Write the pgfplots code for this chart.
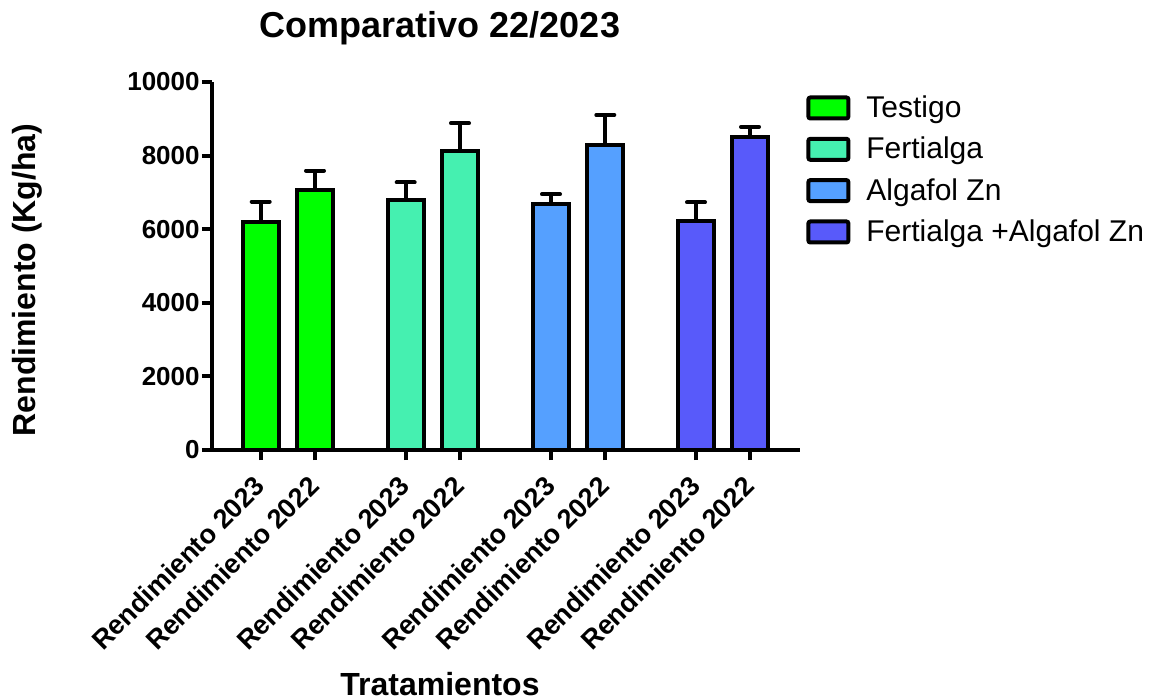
\documentclass[border=0pt]{standalone}
\usepackage{pgfplots}
\pgfplotsset{compat=1.18}
\usepackage{fontspec}
\setmainfont{Liberation Sans}
\definecolor{cTes}{HTML}{00FF00}
\definecolor{cFer}{HTML}{45F0B0}
\definecolor{cAlg}{HTML}{55A0FF}
\definecolor{cFA}{HTML}{585AFA}
\begin{document}
\begin{tikzpicture}
\path[use as bounding box] (-106pt,-125pt) rectangle (471.5pt,225pt);
\begin{axis}[
  at={(0pt,0pt)}, anchor=south west,
  scale only axis, width=294pt, height=184pt,
  xmin=0, xmax=588, ymin=0, ymax=10000,
  clip=false,
  axis x line*=bottom, axis y line*=left,
  axis line style={line width=2pt, -},
  tick align=outside, major tick length=5pt,
  tick style={line width=2pt, black},
  scaled y ticks=false,
  ytick={0,2000,4000,6000,8000,10000},
  xtick={48.7,103,193.7,248,339,393.3,484,538},
  xticklabels={Rendimiento 2023,Rendimiento 2022,Rendimiento 2023,Rendimiento 2022,Rendimiento 2023,Rendimiento 2022,Rendimiento 2023,Rendimiento 2022},
  /pgf/number format/assume math mode=true,
  /pgf/number format/set thousands separator={},
  yticklabel style={font=\bfseries\fontsize{13}{15}\selectfont, inner sep=1pt},
  xticklabel style={font=\bfseries\fontsize{13.5}{15}\selectfont, xshift=-4pt, yshift=-5.5pt, rotate=45, anchor=north east, inner sep=1pt},
  ybar, bar width=18pt, bar shift=0pt,
  every axis plot/.append style={draw=black, line width=2pt},
  error bars/y dir=plus, error bars/y explicit,
  error bars/error bar style={line width=2pt, black},
  error bars/error mark options={rotate=90, mark size=4.5pt, line width=2pt, black, line cap=round},
  legend style={draw=none, fill=none, at={(1.0102,0.975)}, anchor=north west, inner sep=0pt,
    font=\fontsize{15}{17}\selectfont, row sep=4.3pt,
    /tikz/every odd column/.append style={column sep=6pt}},
  legend cell align=left,
  legend image code/.code={\draw[#1, line width=2pt, rounded corners=1pt] (0pt,-5.25pt) rectangle (20pt,5.25pt);},
]
\addplot[fill=cTes] coordinates {(48.7,6200) +- (0,550) (103,7070) +- (0,520)};
\addlegendentry{Testigo}
\addplot[fill=cFer] coordinates {(193.7,6790) +- (0,480) (248,8130) +- (0,750)};
\addlegendentry{Fertialga}
\addplot[fill=cAlg] coordinates {(339,6690) +- (0,260) (393.3,8290) +- (0,815)};
\addlegendentry{Algafol Zn}
\addplot[fill=cFA] coordinates {(484,6220) +- (0,510) (538,8510) +- (0,270)};
\addlegendentry{Fertialga +Algafol Zn}
\end{axis}
\node[font=\bfseries\fontsize{18}{21}\selectfont, anchor=base] at (114pt,206pt) {Comparativo 22/2023};
\node[font=\bfseries\fontsize{16}{19}\selectfont, anchor=base] at (114pt,-122.5pt) {Tratamientos};
\node[font=\bfseries\fontsize{16}{19}\selectfont, rotate=90] at (-92.5pt,85pt) {Rendimiento (Kg/ha)};
\end{tikzpicture}
\end{document}
